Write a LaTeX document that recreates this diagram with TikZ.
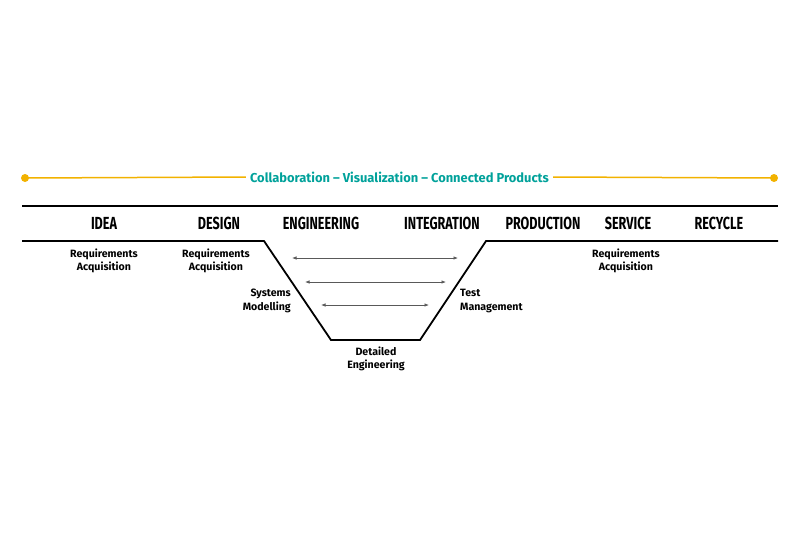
\documentclass[tikz,border=0pt]{standalone}
\usepackage{fontspec}
\setmainfont{Fira Sans}
\newfontfamily\condfont[FakeStretch=0.72]{Fira Sans}
\usepackage[dvipsnames]{xcolor}
\usetikzlibrary{arrows.meta}
\definecolor{lineyellow}{HTML}{F2B200}
\definecolor{titleteal}{HTML}{00A19A}

\tikzset{
  phase/.style={font=\condfont\bfseries\fontsize{17.5}{19}\selectfont},
  task/.style={font=\bfseries\fontsize{10.6}{13.6}\selectfont, align=center, inner sep=1pt},
  loop/.style={draw=black!65, line width=0.7pt, {Latex[length=4.5pt,width=3.5pt]}-{Latex[length=4.5pt,width=3.5pt]}}
}

\begin{document}
\begin{tikzpicture}[x=1pt,y=-1pt]
    \useasboundingbox (0,0) rectangle (800,550);
    % collaboration band
    \coordinate (L) at (25,178);
    \coordinate (R) at (774,178);
    \node[font=\bfseries\fontsize{12.9}{15}\selectfont, text=titleteal, inner sep=4pt] (title) at (399.5,177)
      {Collaboration -- Visualization -- Connected Products};
    \draw[lineyellow, line width=1.5pt] (L) -- (title.west);
    \draw[lineyellow, line width=1.5pt] (title.east) -- (R);
    \fill[lineyellow] (L) circle (4) (R) circle (4);

    % phases
    \draw[line width=1.8pt] (22,206) -- (778,206);
    \node[phase] (idea) at (104,223) {IDEA};
    \node[phase] (design) at (219,223) {DESIGN};
    \node[phase] (eng) at (321,223) {ENGINEERING};
    \node[phase] (integ) at (442,223) {INTEGRATION};
    \node[phase] (prod) at (543,223) {PRODUCTION};
    \node[phase] (serv) at (628,223) {SERVICE};
    \node[phase] (recy) at (719,223) {RECYCLE};

    % the trough
    \coordinate (A) at (22,241);
    \coordinate (B) at (264,241);
    \coordinate (C) at (331,340);
    \coordinate (D) at (420,340);
    \coordinate (E) at (486,241);
    \coordinate (F) at (778,241);
    \draw[line width=1.8pt, line join=miter] (A) -- (B) -- (C) -- (D) -- (E) -- (F);

    \coordinate (a1) at (292,258); \coordinate (b1) at (458,258);
    \coordinate (a2) at (305,282); \coordinate (b2) at (446,282);
    \coordinate (a3) at (321,305); \coordinate (b3) at (429,305);
    \draw[loop] (a1) -- (b1);
    \draw[loop] (a2) -- (b2);
    \draw[loop] (a3) -- (b3);

    % tasks
    \node[task] (req1) at (104,261) {Requirements\\Acquisition};
    \node[task] (req2) at (216,261) {Requirements\\Acquisition};
    \node[task] (req3) at (626,261) {Requirements\\Acquisition};
    \node[task, align=right, anchor=east] (sysm) at (292,301) {Systems\\Modelling};
    \node[task, align=left, anchor=west] (test) at (459,301) {Test\\Management};
    \node[task] (deng) at (376,359) {Detailed\\Engineering};
  \end{tikzpicture}
\end{document}
